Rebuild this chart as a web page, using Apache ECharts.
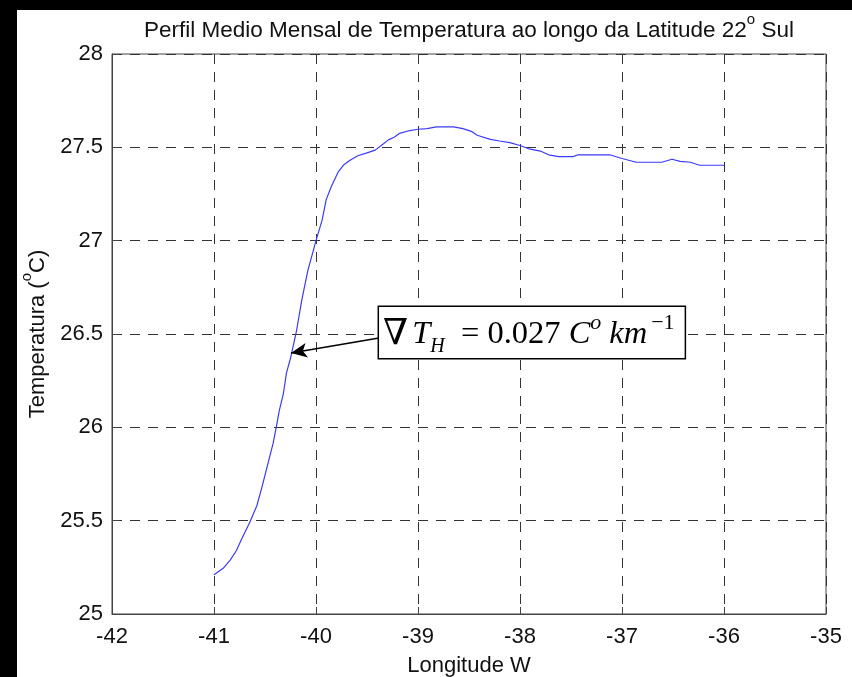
<!DOCTYPE html>
<html>
<head>
<meta charset="utf-8">
<script src="https://cdn.jsdelivr.net/npm/echarts@6/dist/echarts.min.js"></script>
<style>
html,body{margin:0;padding:0;background:#000;width:852px;height:677px;overflow:hidden;}
#c{position:absolute;left:17px;top:10px;width:835px;height:667px;background:#fff;}
</style>
</head>
<body>
<div id="c"></div>
<script>
// Data
const longitude = [-41.00,-40.91,-40.84,-40.78,-40.73,-40.65,-40.58,-40.53,-40.46,-40.42,-40.39,-40.36,-40.32,-40.29,-40.25,-40.19,-40.14,-40.08,-40.00,-39.94,-39.90,-39.85,-39.78,-39.73,-39.67,-39.59,-39.50,-39.42,-39.36,-39.29,-39.23,-39.18,-39.08,-39.00,-38.91,-38.82,-38.65,-38.56,-38.47,-38.42,-38.29,-38.20,-38.10,-38.00,-37.90,-37.80,-37.72,-37.62,-37.48,-37.43,-37.12,-37.00,-36.86,-36.61,-36.51,-36.43,-36.33,-36.24,-36.00];
const temperature = [25.21,25.245,25.29,25.34,25.40,25.49,25.58,25.68,25.83,25.915,26.00,26.09,26.18,26.29,26.37,26.52,26.68,26.84,27.00,27.11,27.22,27.29,27.37,27.405,27.43,27.455,27.47,27.485,27.51,27.54,27.555,27.575,27.59,27.597,27.60,27.61,27.61,27.60,27.584,27.565,27.543,27.534,27.525,27.51,27.49,27.48,27.46,27.45,27.45,27.46,27.46,27.44,27.42,27.42,27.436,27.425,27.42,27.404,27.404];
const xTicks = {min:-42, max:-35, step:1};
const yTicks = {min:25, max:28, step:0.5};
const titleText = 'Perfil Medio Mensal de Temperatura ao longo da Latitude 22';
const titleTail = ' Sul';
const xName = 'Longitude W';
const arrowFrom = [-39.382, 26.479];
const arrowTo = [-40.245, 26.398];
const boxAnchor = [-39.382, 26.508];

const seriesData = longitude.map((x,i)=>[x, temperature[i]]);
const chart = echarts.init(document.getElementById('c'), null, {renderer:'canvas'});
const sans = 'Liberation Sans, Arial, sans-serif';
const serif = 'Liberation Serif, Times New Roman, DejaVu Serif, serif';
const gridStyle = {color:'#333', width:1, type:[10,8]};
const supRich = (fs) => ({
  a:{fontFamily:sans, fontSize:fs, fontWeight:'normal', color:'#111', lineHeight:30, verticalAlign:'bottom'},
  s:{fontFamily:sans, fontSize:15, fontWeight:'normal', color:'#111', lineHeight:18, verticalAlign:'top'}
});

chart.setOption({
  animation:false,
  backgroundColor:'#fff',
  title:{
    text:'{a|'+titleText+'}{s|o}{a|'+titleTail+'}',
    left:127, top:2, padding:0,
    textStyle:{fontWeight:'normal', rich:supRich(22.5)}
  },
  grid:{left:95, top:44, width:714, height:560, show:true, borderColor:'#444', borderWidth:1, containLabel:false, outerBoundsMode:'none'},
  xAxis:{
    type:'value', min:xTicks.min, max:xTicks.max, interval:xTicks.step,
    name:xName, nameLocation:'middle', nameGap:41,
    nameTextStyle:{fontFamily:sans, fontSize:22, color:'#111'},
    axisLine:{show:true, lineStyle:{color:'#444'}},
    axisTick:{show:true, inside:true, length:7, lineStyle:{color:'#444'}},
    axisLabel:{fontFamily:sans, fontSize:22, color:'#111', margin:12},
    splitLine:{show:true, lineStyle:gridStyle}
  },
  yAxis:{
    type:'value', min:yTicks.min, max:yTicks.max, interval:yTicks.step,
    name:'{a|Temperatura (}{s|o}{a|C)}', nameLocation:'middle', nameGap:61, nameRotate:90,
    nameTextStyle:{rich:supRich(22)},
    axisLine:{show:true, lineStyle:{color:'#444'}},
    axisTick:{show:true, inside:true, length:7, lineStyle:{color:'#444'}},
    axisLabel:{fontFamily:sans, fontSize:22, color:'#111', margin:9},
    splitLine:{show:true, lineStyle:gridStyle}
  },
  series:[{
    type:'line', data:seriesData, showSymbol:false, symbol:'none',
    lineStyle:{color:'#3a3aff', width:1.2},
    markLine:{
      silent:true, symbol:['none','arrow'], symbolSize:[11,16],
      lineStyle:{color:'#000', width:1.6, type:'solid'},
      label:{show:false},
      data:[[{coord:arrowFrom},{coord:arrowTo}]]
    },
    markPoint:{
      silent:true, symbol:'circle', symbolSize:0,
      data:[{coord:boxAnchor, value:''}],
      label:{
        show:true, position:'right', distance:0,
        formatter:'{g|∇}{sp| }{it|T}{sub|H}{n|  = 0.027 }{it|C}{sup|o}{sp|  }{it|km}{sp| }{sup2|−1}',
        backgroundColor:'#fff', borderColor:'#000', borderWidth:1.5,
        padding:[5,10,1,4],
        rich:{
          g:{fontFamily:serif, fontSize:36, color:'#000', lineHeight:45},
          sp:{fontFamily:serif, fontSize:16, color:'#000', lineHeight:45},
          it:{fontFamily:serif, fontStyle:'italic', fontSize:32.5, color:'#000', lineHeight:45},
          n:{fontFamily:serif, fontSize:32.5, color:'#000', lineHeight:45},
          sub:{fontFamily:serif, fontStyle:'italic', fontSize:20, color:'#000', lineHeight:18, verticalAlign:'bottom'},
          sup:{fontFamily:serif, fontStyle:'italic', fontSize:22, color:'#000', lineHeight:27, verticalAlign:'top'},
          sup2:{fontFamily:serif, fontSize:22, color:'#000', lineHeight:17, verticalAlign:'top'}
        }
      }
    }
  }]
});
</script>
</body>
</html>
